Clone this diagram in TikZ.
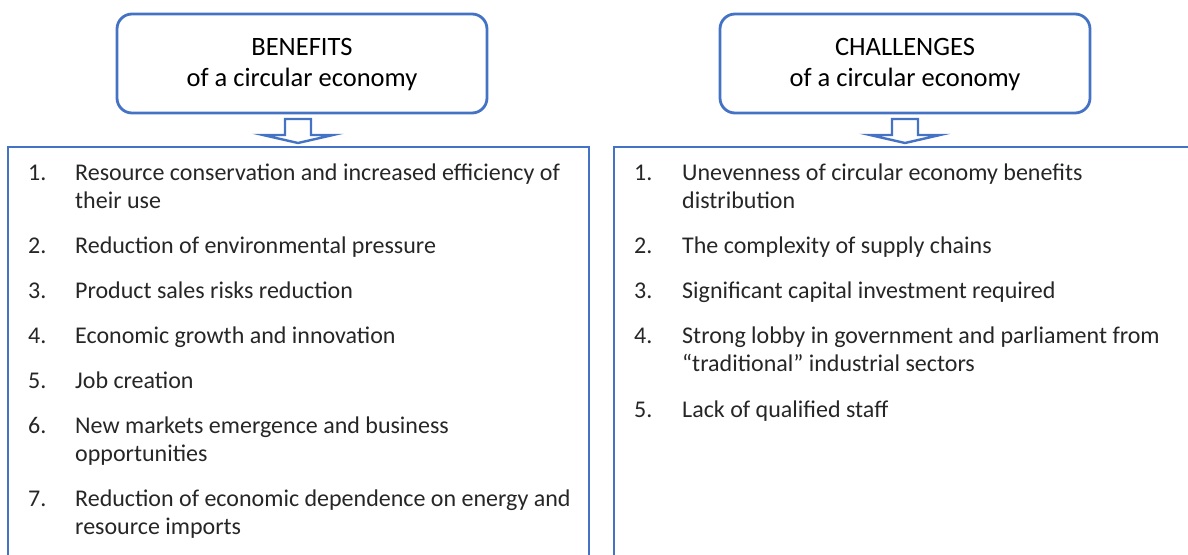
\documentclass[tikz,border=0pt]{standalone}
\usepackage{fontspec}
\setmainfont{Carlito}
\definecolor{boxblue}{HTML}{4472C4}
\definecolor{txt}{HTML}{262626}
\begin{document}
\begin{tikzpicture}[x=1pt,y=-1pt,
  frame/.style={draw=boxblue,line width=2.8pt},
  head/.style={frame,rounded corners=15pt,fill=white},
  blockarrow/.style={draw=boxblue,line width=2.4pt,fill=white,line join=miter},
  num/.style={anchor=base west,inner sep=0pt,text=txt,font=\fontsize{24}{28}\selectfont},
  item/.style={anchor=base west,inner sep=0pt,text=txt,align=left,font=\fontsize{24}{28}\selectfont},
  htitle/.style={anchor=base,inner sep=0pt,font=\fontsize{26.5}{30}\selectfont}]
\clip (0,0) rectangle (1188,554);
% header boxes
\draw[head] (117,14) rectangle (487,113);
\draw[head] (720,14) rectangle (1090,113);
\node[htitle] (bt) at (302,55) {BENEFITS};
\node[htitle] (bs) at (302,86) {of a circular economy};
\node[htitle] (ct) at (905,55) {CHALLENGES};
\node[htitle] (cs) at (905,86) {of a circular economy};
% big frames
\draw[frame] (8,570) -- (8,147) -- (589,147) -- (589,570);
\draw[frame] (614,570) -- (614,147) -- (1200,147);
% arrows
\draw[blockarrow] (285,119) -- (311,119) -- (311,135) -- (333,135) -- (298,143) -- (263,135) -- (285,135) -- cycle;
\draw[blockarrow] (892,119) -- (918,119) -- (918,135) -- (940,135) -- (905,143) -- (870,135) -- (892,135) -- cycle;
% left list
\node[num] (bn1) at (28,180) {1.};
\node[item] (bi1) at (75,208) {Resource conservation and increased efficiency of\\their use};
\node[num] (bn2) at (28,253) {2.};
\node[item] (bi2) at (75,253) {Reduction of environmental pressure};
\node[num] (bn3) at (28,298) {3.};
\node[item] (bi3) at (75,298) {Product sales risks reduction};
\node[num] (bn4) at (28,343) {4.};
\node[item] (bi4) at (75,343) {Economic growth and innovation};
\node[num] (bn5) at (28,388) {5.};
\node[item] (bi5) at (75,388) {Job creation};
\node[num] (bn6) at (28,433) {6.};
\node[item] (bi6) at (75,461) {New markets emergence and business\\opportunities};
\node[num] (bn7) at (28,506) {7.};
\node[item] (bi7) at (75,534) {Reduction of economic dependence on energy and\\resource imports};
% right list
\node[num] (cn1) at (634,180) {1.};
\node[item] (ci1) at (682,208) {Unevenness of circular economy benefits\\distribution};
\node[num] (cn2) at (634,253) {2.};
\node[item] (ci2) at (682,253) {The complexity of supply chains};
\node[num] (cn3) at (634,298) {3.};
\node[item] (ci3) at (682,298) {Significant capital investment required};
\node[num] (cn4) at (634,343) {4.};
\node[item] (ci4) at (682,371) {Strong lobby in government and parliament from\\“traditional” industrial sectors};
\node[num] (cn5) at (634,417) {5.};
\node[item] (ci5) at (682,417) {Lack of qualified staff};
\end{tikzpicture}
\end{document}
